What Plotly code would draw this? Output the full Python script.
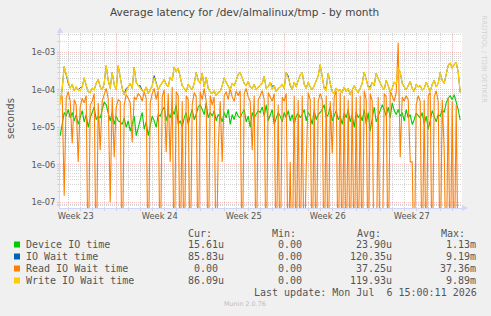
import pandas as pd
import plotly.graph_objects as go

# ---------------- data (microseconds, 4-hour samples) ----------------
start_time = "2026-06-03 07:00"
n_points = 201

device_us = [
    6, 12, 25, 20, 30, 18, 25, 15, 22, 12,
    20, 28, 14, 22, 10, 18, 25, 35, 16, 20,
    18, 30, 48, 40, 22, 15, 25, 12, 20, 15,
    14, 12, 18, 10, 15, 8, 12, 20, 6, 10,
    16, 25, 9, 14, 6, 12, 20, 15, 10, 22,
    20, 28, 35, 15, 24, 18, 30, 22, 40, 12,
    15, 10, 18, 25, 12, 20, 30, 16, 22, 35,
    40, 30, 22, 45, 18, 25, 20, 28, 15, 22,
    20, 14, 25, 18, 30, 12, 22, 16, 26, 20,
    18, 24, 30, 14, 20, 10, 25, 18, 22, 28,
    25, 35, 20, 40, 15, 22, 30, 12, 18, 25,
    20, 14, 25, 18, 28, 15, 22, 12, 20, 24,
    18, 22, 30, 15, 25, 20, 12, 28, 16, 22,
    25, 30, 40, 18, 22, 35, 15, 20, 28, 16,
    20, 12, 25, 18, 30, 14, 22, 10, 26, 18,
    22, 15, 30, 12, 25, 8, 18, 35, 14, 20,
    25, 40, 30, 20, 35, 18, 45, 28, 22, 30,
    20, 25, 15, 30, 18, 22, 12, 16, 24, 20,
    18, 25, 12, 20, 9, 15, 28, 20, 14, 22,
    20, 30, 25, 45, 60, 70, 55, 75, 50, 30, 15.61,
]

iowait_us = [
    42, 110, 420, 260, 150, 112, 140, 95, 120, 100,
    115, 120, 210, 130, 90, 85, 110, 100, 150, 190,
    120, 100, 150, 440, 180, 110, 290, 140, 100, 440,
    200, 110, 75, 110, 120, 150, 110, 400, 160, 130,
    130, 95, 90, 120, 80, 100, 130, 240, 140, 100,
    130, 160, 190, 140, 120, 220, 180, 410, 300, 380,
    200, 130, 110, 90, 140, 120, 100, 150, 290, 180,
    150, 280, 120, 220, 110, 90, 80, 95, 70, 85,
    90, 130, 210, 160, 120, 100, 150, 130, 180, 260,
    290, 220, 150, 130, 170, 120, 110, 140, 100, 120,
    130, 150, 230, 110, 120, 160, 125, 130, 90, 110,
    120, 140, 110, 290, 240, 130, 100, 160, 120, 180,
    250, 290, 140, 110, 160, 120, 100, 130, 180, 240,
    470, 200, 110, 115, 280, 150, 90, 80, 110, 95,
    100, 85, 120, 90, 110, 75, 95, 130, 100, 85,
    110, 150, 300, 180, 120, 120, 160, 130, 280, 200,
    150, 120, 100, 180, 130, 90, 110, 160, 140, 380,
    300, 150, 120, 100, 130, 170, 110, 90, 140, 120,
    130, 100, 110, 160, 120, 90, 140, 180, 120, 150,
    290, 180, 150, 260, 450, 520, 380, 480, 540, 300, 85.83,
]

read_us = [
    55, 70, 0.15, 60, 90, 50, 3.8, 55, 40, 1.2,
    35, 60, 45, 70, 0, 40, 50, 80, 0, 45,
    2.5, 50, 75, 110, 60, 0.1, 65, 1.6, 35, 55,
    50, 0, 40, 75, 60, 45, 4, 65, 55, 80,
    70, 50, 90, 60, 0, 45, 80, 110, 55, 95,
    0, 65, 100, 2.2, 80, 1.2, 120, 0, 90, 70,
    0, 50, 0, 70, 55, 0, 40, 85, 65, 0,
    90, 55, 110, 50, 0, 70, 40, 65, 0, 2.5,
    50, 1.2, 70, 90, 55, 110, 65, 50, 95, 70,
    95, 0, 80, 110, 65, 50, 2.5, 70, 0, 55,
    70, 95, 55, 0, 85, 65, 50, 80, 0, 40,
    0, 65, 50, 80, 0, 1.2, 0, 70, 0, 55,
    0, 70, 0, 0.9, 85, 55, 0, 65, 0, 50,
    80, 55, 0, 70, 0, 50, 2, 65, 95, 0,
    85, 0, 70, 0, 55, 0, 95, 0, 65, 0,
    70, 0, 95, 55, 0, 80, 50, 0, 0, 65,
    0, 0, 80, 65, 0, 95, 70, 50, 85, 1800,
    1.6, 65, 50, 70, 55, 1.2, 1.2, 0, 40, 70,
    50, 0, 55, 0, 70, 85, 0, 65, 95, 50,
    0, 55, 2.5, 0, 65, 0, 50, 0, 40, 0, 0,
]

write_us = [
    42, 110, 420, 260, 150, 110, 140, 95, 120, 100,
    95, 120, 210, 130, 90, 85, 110, 100, 150, 190,
    120, 100, 150, 440, 180, 110, 290, 140, 100, 440,
    200, 110, 75, 90, 120, 150, 110, 400, 160, 130,
    110, 95, 90, 120, 80, 100, 130, 210, 140, 100,
    130, 160, 190, 140, 120, 220, 180, 410, 300, 380,
    200, 130, 110, 90, 140, 120, 100, 150, 290, 180,
    150, 280, 120, 220, 110, 90, 80, 95, 70, 85,
    90, 130, 210, 160, 120, 100, 150, 130, 180, 260,
    290, 220, 150, 130, 170, 120, 110, 140, 100, 120,
    130, 150, 230, 110, 120, 160, 100, 130, 90, 110,
    120, 140, 110, 290, 200, 130, 100, 160, 120, 180,
    250, 290, 140, 110, 160, 120, 100, 130, 180, 240,
    470, 200, 110, 95, 280, 150, 90, 80, 110, 95,
    100, 85, 120, 90, 110, 75, 95, 130, 100, 85,
    110, 150, 300, 180, 120, 100, 160, 130, 280, 200,
    150, 120, 100, 180, 130, 90, 110, 160, 140, 380,
    300, 150, 120, 100, 130, 170, 110, 90, 140, 120,
    130, 100, 110, 160, 120, 90, 140, 180, 120, 150,
    290, 180, 150, 260, 450, 520, 380, 480, 540, 300, 86.09,
]

series_names = ["Device IO time", "IO Wait time", "Read IO Wait time", "Write IO Wait time"]
series_colors = ["#00CC00", "#0066B3", "#FF8000", "#FFCC00"]
cur_text = ["15.61u", "85.83u", "0.00", "86.09u"]
min_text = ["0.00", "0.00", "0.00", "0.00"]
avg_text = ["23.90u", "120.35u", "37.25u", "119.93u"]
max_text = ["1.13m", "9.19m", "37.36m", "9.89m"]

week_labels = ["Week 23", "Week 24", "Week 25", "Week 26", "Week 27"]
week_first_monday = "2026-06-01"
y_tick_vals = [1e-7, 1e-6, 1e-5, 1e-4, 1e-3]
y_tick_text = ["1e-07", "1e-06", "1e-05", "1e-04", "1e-03"]

title = "Average latency for /dev/almalinux/tmp - by month"
last_update = "Last update: Mon Jul \u00a06 15:00:11 2026"

# ---------------- geometry ----------------
W, H = 491, 316
PL, PR, PT, PB = 60, 462, 33, 208
x_range = ["2026-06-03 06:36", "2026-07-06 18:36"]
y_range = [-7.152, -2.481]

FONT = "#555555"
SANS = "DejaVu Sans"
MONO = "DejaVu Sans Mono"
MGRID = "rgba(255,0,0,0.24)"
GRID = "#d4d4d4"
AXIS = "#CFD6F8"


def px(x):
    return (x - PL) / (PR - PL)


def py(y):
    return (PB - y) / (PB - PT)


times = pd.date_range(start_time, periods=n_points, freq="4h")
floor = 1e-9  # zero values are drawn at the bottom of the log axis

fig = go.Figure()
all_series = [device_us, iowait_us, read_us, write_us]
widths = [1.1, 1.0, 1.1, 1.3]
for name, vals, color, wd in zip(series_names, all_series, series_colors, widths):
    fig.add_trace(go.Scatter(
        x=times, y=[max(v * 1e-6, floor) for v in vals], mode="lines", name=name,
        line=dict(color=color, width=wd), showlegend=False, hoverinfo="skip"))

week_starts = pd.date_range(week_first_monday, periods=len(week_labels) + 1, freq="7D")
week_label_pos = [d + pd.Timedelta(days=3, hours=14) for d in week_starts[:-1]]
day_lines = pd.date_range("2026-06-04", "2026-07-06", freq="D")

fig.update_xaxes(
    type="date", range=x_range, tickmode="array", tickvals=week_label_pos,
    ticktext=week_labels, ticks="", showgrid=False, zeroline=False,
    showline=True, linecolor=AXIS, linewidth=1,
    tickfont=dict(family=SANS, size=8.3, color=FONT),
    minor=dict(tickmode="array", tickvals=list(day_lines), showgrid=True,
               gridcolor=GRID, griddash="1px,1px", gridwidth=1,
               ticks="outside", ticklen=2, tickcolor=GRID),
)
minor_y = [k * 10.0 ** e for e in range(-8, -2) for k in range(2, 10)]
fig.update_yaxes(
    type="log", range=y_range, tickmode="array", tickvals=y_tick_vals,
    ticktext=y_tick_text, showgrid=True, gridcolor=MGRID, griddash="1px,1px",
    gridwidth=1, zeroline=False, showline=True, linecolor=AXIS, linewidth=1,
    ticks="outside", ticklen=2, tickcolor=MGRID,
    tickfont=dict(family=SANS, size=8.3, color=FONT),
    minor=dict(tickmode="array", tickvals=minor_y, showgrid=True, gridcolor=GRID,
               griddash="1px,1px", gridwidth=1, ticks="outside", ticklen=2,
               tickcolor=GRID),
)

shapes = []
for d in week_starts[1:]:
    shapes.append(dict(type="line", xref="x", yref="paper", x0=d, x1=d,
                       y0=-0.015, y1=1, layer="below",
                       line=dict(color=MGRID, width=1, dash="1px,1px")))
# axis arrows
shapes.append(dict(type="path", xref="paper", yref="paper", layer="above",
                   path=f"M {px(57)} {py(33)} L {px(63)} {py(33)} L {px(60)} {py(27)} Z",
                   fillcolor=AXIS, line=dict(width=0)))
shapes.append(dict(type="path", xref="paper", yref="paper", layer="above",
                   path=f"M {px(462)} {py(205)} L {px(462)} {py(211)} L {px(468)} {py(208)} Z",
                   fillcolor=AXIS, line=dict(width=0)))

anns = []


def text(x, y, s, size, anchor="left", color=FONT, family=MONO, angle=0):
    anns.append(dict(x=px(x), y=py(y), xref="paper", yref="paper", text=s,
                     showarrow=False, xanchor=anchor, yanchor="middle",
                     textangle=angle, borderpad=0, borderwidth=0,
                     font=dict(family=family, size=size, color=color)))


text(244.5, 12, title, 10.5, anchor="center", family=SANS, color="#444444")
text(10, 119, "seconds", 10, anchor="center", family=SANS, angle=-90)
text(483.5, 59, "RRDTOOL / TOBI OETIKER", 6.8, anchor="center", family=SANS,
     color="#d0d0d0", angle=90)

headers = ["Cur:", "Min:", "Avg:", "Max:"]
for k, h in enumerate(headers):
    text(188.3 + 84.1 * k, 233.3, h, 10)

row_y = [244.5, 256.5, 268.5, 280.5]
cols = [cur_text, min_text, avg_text, max_text]
for r in range(4):
    yy = row_y[r]
    shapes.append(dict(type="rect", xref="paper", yref="paper",
                       x0=px(14), x1=px(20), y0=py(yy + 3), y1=py(yy - 3),
                       fillcolor=series_colors[r], line=dict(width=0)))
    text(26, yy, series_names[r], 10)
    for k, col in enumerate(cols):
        s = col[r]
        if s[-1].isdigit():
            s = s + "\u00a0"
        text(223.5 + 84.3 * k, yy, s, 10, anchor="right")

text(476.7, 292.3, last_update, 10, anchor="right")
text(245, 304.3, "Munin 2.0.76", 6.4, anchor="center", family=SANS, color="#bdbdbd")

fig.update_layout(
    width=W, height=H, margin=dict(l=PL, r=W - PR, t=PT, b=H - PB, pad=0),
    paper_bgcolor="#F0F0F0", plot_bgcolor="#FFFFFF",
    shapes=shapes, annotations=anns, showlegend=False,
)

fig.write_html("out.html")
